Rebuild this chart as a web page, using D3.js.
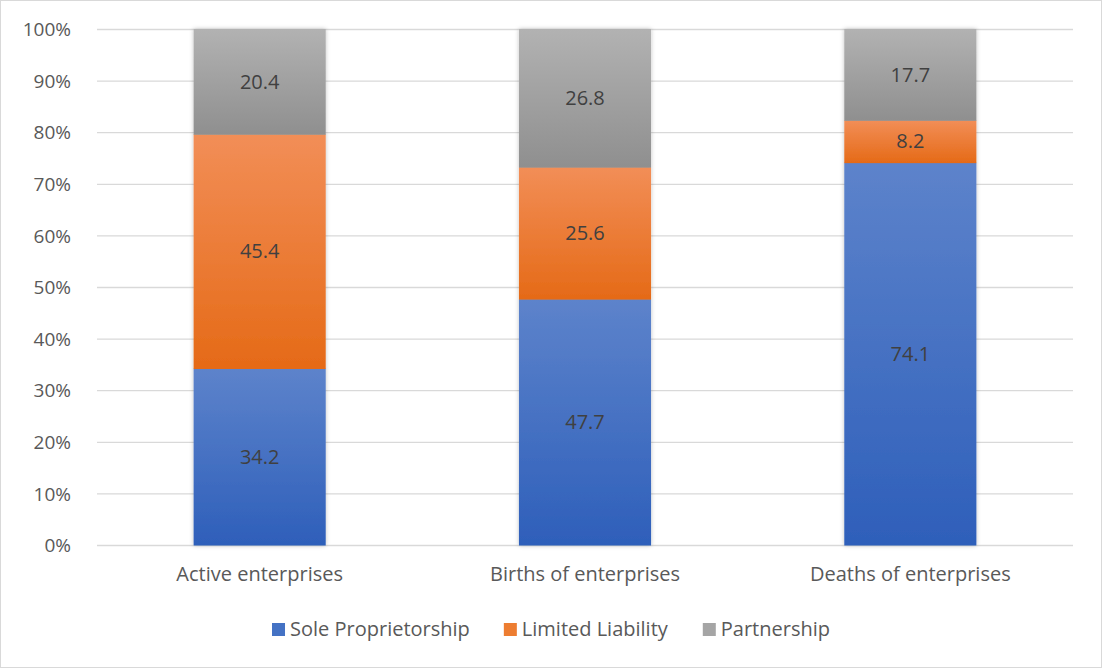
<!DOCTYPE html>
<html>
<head>
<meta charset="utf-8">
<script src="https://cdnjs.cloudflare.com/ajax/libs/d3/7.8.5/d3.min.js"></script>
<style>
  body { margin: 0; background: #fff; }
  svg text { font-family: "Open Sans", "Noto Sans", sans-serif; }
</style>
</head>
<body>
<div id="chart"></div>
<script>
// data
const categories = ["Active enterprises", "Births of enterprises", "Deaths of enterprises"]
const seriesNames = ["Sole Proprietorship", "Limited Liability", "Partnership"]
const sole = [34.2, 47.7, 74.1]
const limited = [45.4, 25.6, 8.2]
const partnership = [20.4, 26.8, 17.7]
const yTicks = [0, 10, 20, 30, 40, 50, 60, 70, 80, 90, 100]

const width = 1102, height = 668
const margin = {top: 29, right: 29, bottom: 123, left: 97}

// colours: [top, bottom] of each gradient, legend colour
const colours = [
    {top: "#5d83cb", bottom: "#2e5fba", flat: "#4472c4"},
    {top: "#f28e57", bottom: "#e56a17", flat: "#ed7d31"},
    {top: "#b2b2b2", bottom: "#8f8f8f", flat: "#a5a5a5"},
]

const svg = d3.select("#chart")
    .append("svg")
    .attr("width", width)
    .attr("height", height)

// chart border
svg.append("rect")
    .attr("x", 0.5).attr("y", 0.5)
    .attr("width", width - 1).attr("height", height - 1)
    .attr("fill", "#fff")
    .attr("stroke", "#d9d9d9")

const defs = svg.append("defs")
colours.forEach((c, i) => {
    const g = defs.append("linearGradient")
        .attr("id", "grad" + i)
        .attr("x1", 0).attr("y1", 0).attr("x2", 0).attr("y2", 1)
    g.append("stop").attr("offset", "0%").attr("stop-color", c.top)
    g.append("stop").attr("offset", "100%").attr("stop-color", c.bottom)
})
const shadow = defs.append("filter").attr("id", "shadow")
    .attr("x", "-5%").attr("y", "-5%").attr("width", "110%").attr("height", "110%")
shadow.append("feDropShadow")
    .attr("dx", 0).attr("dy", 0).attr("stdDeviation", 2)
    .attr("flood-color", "#000").attr("flood-opacity", 0.25)

const x = d3.scaleBand()
    .domain(categories)
    .range([margin.left, width - margin.right])
    .paddingInner(0.594)
    .paddingOuter(0.297)

const y = d3.scaleLinear()
    .domain([0, 100])
    .range([height - margin.bottom, margin.top])

// gridlines
svg.append("g")
    .selectAll("line")
    .data(yTicks)
    .join("line")
    .attr("x1", margin.left).attr("x2", width - margin.right)
    .attr("y1", d => y(d) + 0.5).attr("y2", d => y(d) + 0.5)
    .attr("stroke", "#d9d9d9")
    .attr("stroke-width", 1.3)

// y axis labels
const yAxis = svg.append("g")
    .attr("transform", `translate(${margin.left - 23},0)`)
    .call(d3.axisLeft(y).tickValues(yTicks).tickFormat(d => d + "%").tickSize(0))
yAxis.select(".domain").remove()
yAxis.selectAll("text")
    .attr("fill", "#595959")
    .style("font-size", "19px")
    .attr("dy", "0.35em")

// x axis labels
const xAxis = svg.append("g")
    .attr("transform", `translate(0,${height - margin.bottom + 19})`)
    .call(d3.axisBottom(x).tickSize(0))
xAxis.select(".domain").remove()
xAxis.selectAll("text")
    .attr("fill", "#595959")
    .style("font-size", "20px")

// stack
const rows = categories.map((c, i) => ({
    category: c,
    [seriesNames[0]]: sole[i],
    [seriesNames[1]]: limited[i],
    [seriesNames[2]]: partnership[i],
}))
const stacked = d3.stack().keys(seriesNames)
    .offset(d3.stackOffsetExpand)(rows)

const bars = svg.append("g").attr("filter", "url(#shadow)")
const layers = bars
    .selectAll("g")
    .data(stacked)
    .join("g")
    .attr("fill", (d, i) => `url(#grad${i})`)

layers.selectAll("rect")
    .data(d => d)
    .join("rect")
    .attr("x", d => x(d.data.category))
    .attr("y", d => y(d[1] * 100))
    .attr("width", x.bandwidth())
    .attr("height", d => y(d[0] * 100) - y(d[1] * 100) + 0.5)

// data labels
svg.append("g")
    .selectAll("g")
    .data(stacked)
    .join("g")
    .selectAll("text")
    .data(d => d.map(v => ({v, key: d.key})))
    .join("text")
    .attr("x", d => x(d.v.data.category) + x.bandwidth() / 2)
    .attr("y", d => y((d.v[0] + d.v[1]) / 2 * 100))
    .attr("dy", "0.35em")
    .attr("text-anchor", "middle")
    .attr("fill", "#404040")
    .style("font-size", "20px")
    .text(d => d.v.data[d.key].toFixed(1))

// legend
const legend = svg.append("g")
const items = legend.selectAll("g")
    .data(seriesNames)
    .join("g")
items.append("rect")
    .attr("width", 13).attr("height", 13)
    .attr("y", -6)
    .attr("fill", (d, i) => colours[i].flat)
items.append("text")
    .attr("x", 18)
    .attr("dy", "0.35em")
    .attr("fill", "#595959")
    .style("font-size", "20px")
    .text(d => d)

let offset = 0
const gap = 34
items.each(function () {
    const w = this.getBBox().width
    d3.select(this).attr("transform", `translate(${offset},0)`)
    offset += w + gap
})
const total = offset - gap
legend.attr("transform", `translate(${(width - total) / 2},629)`)
</script>
</body>
</html>
